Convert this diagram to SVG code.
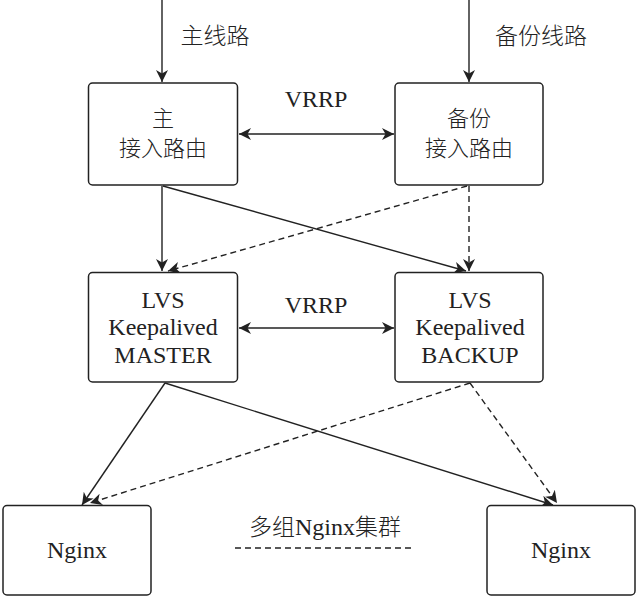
<svg xmlns="http://www.w3.org/2000/svg" width="636" height="598" viewBox="0 0 636 598">
<style>
.box{fill:#fff;stroke:#222;stroke-width:1.5}
.t{font-family:"Liberation Serif","Times New Roman","DejaVu Serif",serif;font-size:24px;fill:#222;text-anchor:middle}
.c{font-family:"Noto Sans CJK SC",sans-serif;font-size:23px;fill:#222;text-anchor:middle;font-weight:300}
.cb{font-size:22px}
.ln{stroke:#222;stroke-width:1.4;fill:none}
.ds{stroke-dasharray:6 4}
</style>
<defs>
<marker id="ah" markerUnits="userSpaceOnUse" markerWidth="13" markerHeight="12" refX="12" refY="6" orient="auto-start-reverse" viewBox="0 0 13 12">
<path d="M0,0 L12,6 L0,12 L3.5,6 z" fill="#222"/>
</marker>
</defs>
<rect width="636" height="598" fill="#fff"/>
<g id="connectors">
<line class="ln" x1="162" y1="0" x2="162" y2="82" marker-end="url(#ah)"/>
<line class="ln" x1="469" y1="0" x2="469" y2="82" marker-end="url(#ah)"/>
<line class="ln" x1="239" y1="134" x2="394" y2="134" marker-start="url(#ah)" marker-end="url(#ah)"/>
<line class="ln" x1="162" y1="186" x2="162" y2="271" marker-end="url(#ah)"/>
<line class="ln" x1="163" y1="186" x2="466" y2="271" marker-end="url(#ah)"/>
<line class="ln ds" x1="467" y1="186" x2="168" y2="271" marker-end="url(#ah)"/>
<line class="ln ds" x1="469" y1="186" x2="469" y2="271" marker-end="url(#ah)"/>
<line class="ln" x1="239" y1="328" x2="394" y2="328" marker-start="url(#ah)" marker-end="url(#ah)"/>
<line class="ln" x1="165" y1="383" x2="82" y2="505" marker-end="url(#ah)"/>
<line class="ln" x1="165" y1="383" x2="553" y2="505" marker-end="url(#ah)"/>
<line class="ln ds" x1="470" y1="383" x2="90" y2="503" marker-end="url(#ah)"/>
<line class="ln ds" x1="470" y1="383" x2="557" y2="503" marker-end="url(#ah)"/>
<line class="ln ds" x1="235" y1="548" x2="415" y2="548"/>
</g>
<g id="labels">
<text class="c" x="215" y="44">主线路</text>
<text class="c" x="541" y="44">备份线路</text>
<text class="t" x="316" y="107">VRRP</text>
<text class="t" x="316" y="313">VRRP</text>
<text class="c" x="325" y="535">多组<tspan style="font-family:'Liberation Serif','Times New Roman',serif;font-size:24px;font-weight:400">Nginx</tspan>集群</text>
</g>
<g id="main-router">
<rect class="box" x="88.5" y="83" width="149" height="102" rx="4"/>
<text class="c cb" x="163" y="126">主<tspan x="163" dy="30">接入路由</tspan></text>
</g>
<g id="backup-router">
<rect class="box" x="395" y="83" width="148" height="102" rx="4"/>
<text class="c cb" x="469" y="126">备份<tspan x="469" dy="30">接入路由</tspan></text>
</g>
<g id="lvs-master">
<rect class="box" x="88.5" y="272.5" width="149" height="109.5" rx="4"/>
<text class="t" x="163" y="308">LVS<tspan x="163" dy="27">Keepalived</tspan><tspan x="163" dy="28">MASTER</tspan></text>
</g>
<g id="lvs-backup">
<rect class="box" x="395" y="272.5" width="148" height="109.5" rx="4"/>
<text class="t" x="470" y="308">LVS<tspan x="470" dy="27">Keepalived</tspan><tspan x="470" dy="28">BACKUP</tspan></text>
</g>
<g id="nginx-left">
<rect class="box" x="3" y="505.5" width="148" height="89.5" rx="4"/>
<text class="t" x="77" y="558">Nginx</text>
</g>
<g id="nginx-right">
<rect class="box" x="487" y="505.5" width="148" height="89.5" rx="4"/>
<text class="t" x="561" y="558">Nginx</text>
</g>
</svg>
